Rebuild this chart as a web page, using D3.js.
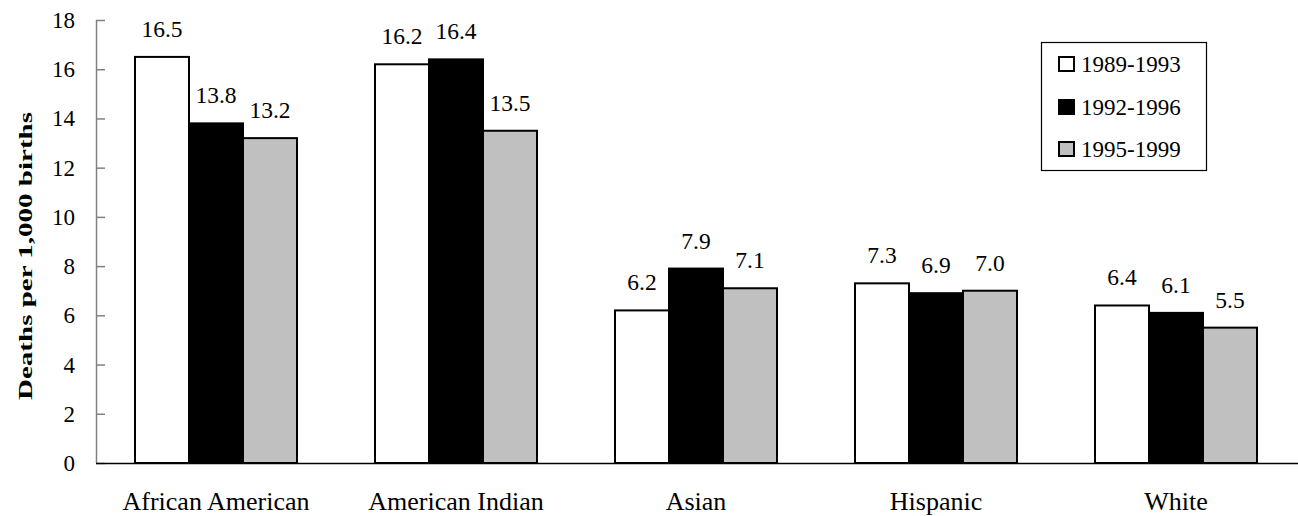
<!DOCTYPE html>
<html>
<head>
<meta charset="utf-8">
<script src="https://cdn.jsdelivr.net/npm/d3@7"></script>
<style>
  html, body { margin: 0; padding: 0; background: #fff; }
  svg { display: block; font-family: "Liberation Serif", "Times New Roman", serif; }
</style>
</head>
<body>
<svg id="chart" width="1298" height="516"></svg>
<script>
// Infant deaths per 1,000 births by group, three overlapping periods
const categories = ["African American", "American Indian", "Asian", "Hispanic", "White"];
const periods = ["1989-1993", "1992-1996", "1995-1999"];
const values1989 = [16.5, 16.2, 6.2, 7.3, 6.4];
const values1992 = [13.8, 16.4, 7.9, 6.9, 6.1];
const values1995 = [13.2, 13.5, 7.1, 7.0, 5.5];
const yTicks = [0, 2, 4, 6, 8, 10, 12, 14, 16, 18];
const fills = ["#ffffff", "#000000", "#c0c0c0"];

const seriesValues = [values1989, values1992, values1995];

const svg = d3.select("#chart");
const plotLeft = 96, plotRight = 1296, plotTop = 20, plotBottom = 463;

const x = d3.scaleBand().domain(categories).range([plotLeft, plotRight]).paddingInner(0).paddingOuter(0);
const groupWidth = x.bandwidth() * 0.675;
const xInner = d3.scaleBand().domain(periods).range([0, groupWidth]);
const y = d3.scaleLinear().domain([0, 18]).range([plotBottom, plotTop]);

// y axis: gray line with inward ticks
const yAxis = svg.append("g").attr("transform", `translate(${plotLeft},0)`)
  .call(d3.axisRight(y).tickValues(yTicks).tickSize(9).tickFormat(""));
yAxis.select(".domain").attr("stroke", "#808080").attr("stroke-width", 1.5).attr("d", `M0.5,${plotTop}H0.5V${plotBottom}`);
yAxis.selectAll(".tick line").attr("stroke", "#808080").attr("stroke-width", 1.5);

svg.append("g").selectAll("text").data(yTicks).join("text")
  .attr("x", 75).attr("y", d => y(d)).attr("dy", "0.35em")
  .attr("text-anchor", "end").attr("font-size", 23).attr("fill", "#000")
  .text(d => d);

// y axis title
svg.append("text")
  .attr("transform", `translate(32,256) rotate(-90)`)
  .attr("text-anchor", "middle").attr("font-size", 19).attr("font-weight", "bold")
  .attr("textLength", 288).attr("lengthAdjust", "spacingAndGlyphs")
  .text("Deaths per 1,000 births");

// bars
const groups = svg.append("g").selectAll("g").data(categories).join("g")
  .attr("transform", c => `translate(${x(c) + (x.bandwidth() - groupWidth) / 2},0)`);

periods.forEach((p, si) => {
  groups.append("rect")
    .attr("x", xInner(p))
    .attr("y", (c, ci) => y(seriesValues[si][ci]))
    .attr("width", xInner.bandwidth())
    .attr("height", (c, ci) => y(0) - y(seriesValues[si][ci]))
    .attr("fill", fills[si]).attr("stroke", "#000").attr("stroke-width", 2);
  groups.append("text")
    .attr("x", xInner(p) + xInner.bandwidth() / 2)
    .attr("y", (c, ci) => y(seriesValues[si][ci]) - 20)
    .attr("text-anchor", "middle").attr("font-size", 23.5)
    .text((c, ci) => seriesValues[si][ci].toFixed(1));
});

// x axis baseline
svg.append("line").attr("x1", plotLeft).attr("x2", 1298).attr("y1", plotBottom + 0.5).attr("y2", plotBottom + 0.5)
  .attr("stroke", "#000").attr("stroke-width", 1.5);

// category labels
svg.append("g").selectAll("text").data(categories).join("text")
  .attr("x", c => x(c) + x.bandwidth() / 2).attr("y", 510)
  .attr("text-anchor", "middle").attr("font-size", 26)
  .text(c => c);

// legend
const legend = svg.append("g");
legend.append("rect").attr("x", 1041.5).attr("y", 42.5).attr("width", 165).attr("height", 128)
  .attr("fill", "#fff").attr("stroke", "#000").attr("stroke-width", 1.2);
const legendRows = [64, 107, 149];
periods.forEach((p, i) => {
  legend.append("rect").attr("x", 1059).attr("y", legendRows[i] - 7).attr("width", 15).attr("height", 14)
    .attr("fill", fills[i]).attr("stroke", "#000").attr("stroke-width", 2);
  legend.append("text").attr("x", 1081).attr("y", legendRows[i]).attr("dy", "0.35em")
    .attr("font-size", 23).text(p);
});
</script>
</body>
</html>
